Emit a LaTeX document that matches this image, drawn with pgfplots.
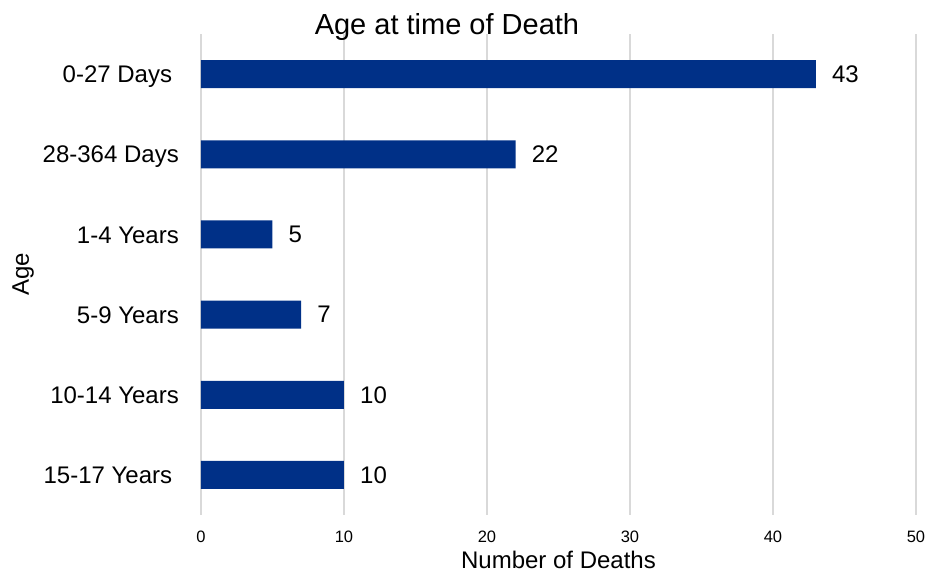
\documentclass[border=0pt]{standalone}
\usepackage{fontspec}
\setmainfont{Liberation Sans}
\usepackage{pgfplots}
\pgfplotsset{compat=1.18}
\definecolor{barblue}{RGB}{0,48,135}
\definecolor{gridgray}{RGB}{217,217,217}
\begin{document}
\begin{tikzpicture}
\useasboundingbox (-201bp,-58bp) rectangle (726bp,515bp);
\begin{axis}[
  scale only axis,
  width=715bp, height=481bp,
  xbar, bar width=28bp,
  xmin=0, xmax=50,
  ymin=-0.5, ymax=5.5,
  y dir=reverse,
  xtick={0,10,...,50},
  ytick={0,...,5},
  yticklabels={0-27 Days\kern0.278em,28-364 Days,1-4 Years,5-9 Years,10-14 Years,15-17 Years\kern0.278em},
  /pgf/number format/assume math mode=true,
  xmajorgrids,
  major grid style={gridgray, line width=1.5bp},
  axis line style={draw=none},
  major tick length=0pt,
  tick style={draw=none},
  xticklabel style={font=\fontsize{16.5bp}{18bp}\selectfont, anchor=north, inner sep=0pt, yshift=-16bp},
  yticklabel style={font=\fontsize{24bp}{26bp}\selectfont, anchor=base east, inner sep=0pt, xshift=-22bp, yshift=-8.6bp},
  title={Age at time of Death},
  title style={font=\fontsize{29bp}{31bp}\selectfont, at={(axis description cs:0.344,1)}, anchor=base, inner sep=0pt, yshift=-6bp},
  xlabel={Number of Deaths},
  xlabel style={font=\fontsize{24bp}{26bp}\selectfont, at={(axis description cs:0.5,0)}, anchor=base, inner sep=0pt, yshift=-53.5bp},
  ylabel={Age},
  ylabel style={font=\fontsize{24bp}{26bp}\selectfont, at={(axis description cs:-0.2406,0.5)}, anchor=base, inner sep=0pt},
  nodes near coords,
  nodes near coords style={font=\fontsize{24bp}{26bp}\selectfont, anchor=west, inner sep=0pt, xshift=16bp, text=black},
]
\addplot[fill=barblue, draw=none] coordinates {
  (43,0) (22,1) (5,2) (7,3) (10,4) (10,5)
};
\end{axis}
\end{tikzpicture}
\end{document}
